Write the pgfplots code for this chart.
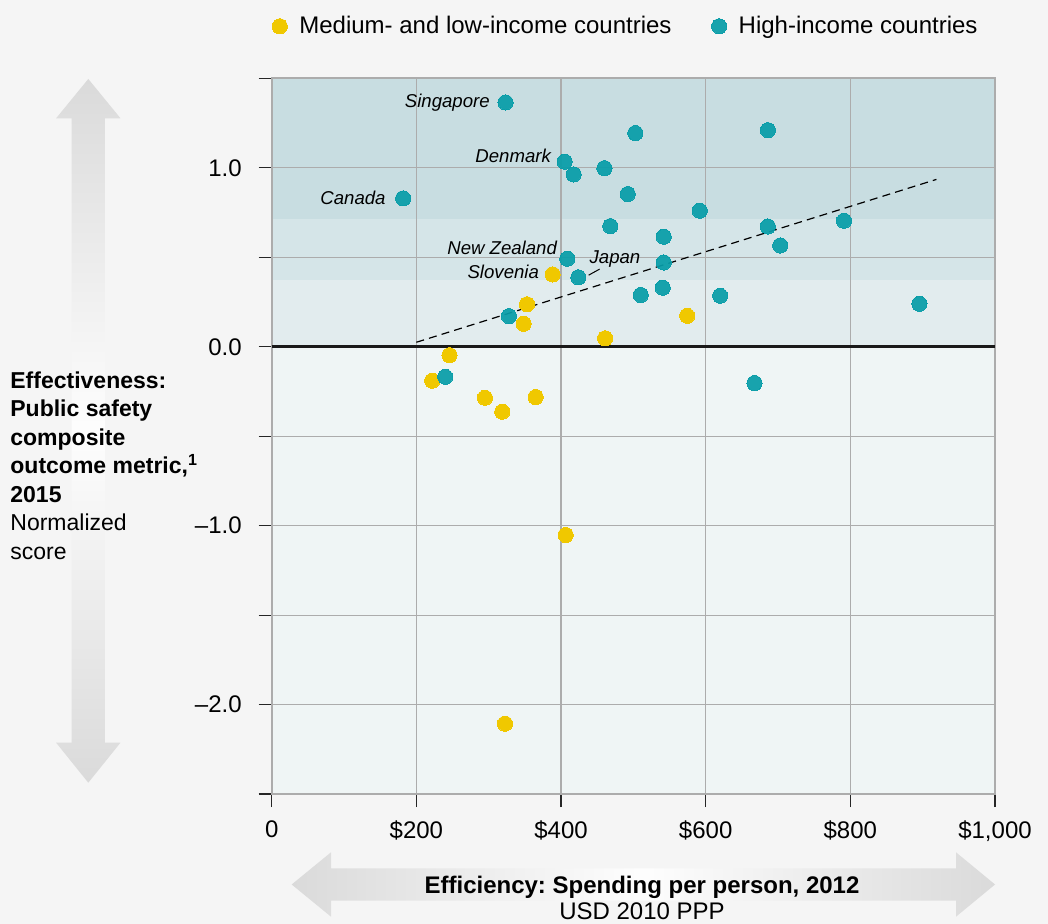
\documentclass[border=0pt]{standalone}
\usepackage{fontspec}
\setmainfont{Liberation Sans}
\usepackage{pgfplots}
\pgfplotsset{compat=1.18}
\frenchspacing
\definecolor{pagebg}{RGB}{245,245,245}
\definecolor{band1}{RGB}{200,221,225}
\definecolor{band2}{RGB}{213,229,232}
\definecolor{band3}{RGB}{226,236,238}
\definecolor{band4}{RGB}{239,245,245}
\definecolor{myyellow}{RGB}{240,200,0}
\definecolor{myteal}{RGB}{8,157,168}
\definecolor{gridgray}{RGB}{172,172,172}
\definecolor{arrowgray}{RGB}{218,218,218}
\begin{document}
\begin{tikzpicture}
% page background and arrows
\fill[pagebg] (-135.85pt,-64.9pt) rectangle (388.15pt,397.1pt);
\shade[top color=arrowgray, bottom color=arrowgray, middle color=white!96!arrowgray]
  (-91.7pt,357.6pt) -- (-107.8pt,337.95pt) -- (-100pt,337.95pt) -- (-100pt,25.75pt) -- (-107.8pt,25.75pt)
  -- (-91.7pt,5.75pt) -- (-75.6pt,25.75pt) -- (-83.4pt,25.75pt) -- (-83.4pt,337.95pt) -- (-75.6pt,337.95pt) -- cycle;
\shade[left color=arrowgray, right color=arrowgray, middle color=white!96!arrowgray]
  (10pt,-45.15pt) -- (29.65pt,-29.05pt) -- (29.65pt,-37.05pt) -- (342.15pt,-37.05pt) -- (342.15pt,-29.05pt)
  -- (361.65pt,-45.15pt) -- (342.15pt,-61.25pt) -- (342.15pt,-53.25pt) -- (29.65pt,-53.25pt) -- (29.65pt,-61.25pt) -- cycle;
\begin{axis}[
  at={(0pt,0pt)}, anchor=south west,
  width=361.65pt, height=357.95pt, scale only axis,
  xmin=0, xmax=1000, ymin=-2.5, ymax=1.5,
  clip=false,
  axis line style={draw=gridgray, line width=0.8pt},
  xtick={0,200,400,600,800,1000},
  xticklabels={0,\$200,\$400,\$600,\$800,{\$1,000}},
  ytick={-2.5,-2,-1.5,-1,-0.5,0,0.5,1,1.5},
  yticklabels={{},{–2.0},{},{–1.0},{},{0.0},{},{1.0},{}},
  tick align=outside, major tick length=6.5pt,
  xtick pos=left, ytick pos=left,
  tick style={draw=black!85, line width=0.7pt},
  ticklabel style={font=\fontsize{12}{14}\selectfont},
  xticklabel style={yshift=-3pt},
  yticklabel style={xshift=-5pt},
  legend columns=2,
  legend style={at={(0.491,1)}, anchor=center, yshift=26pt, draw=none, fill=none,
    font=\fontsize{12}{14}\selectfont,
    /tikz/every odd column/.append style={column sep=4pt},
    /tikz/every even column/.append style={column sep=18pt}},
  legend image code/.code={\draw[#1] plot coordinates {(0pt,0pt)};},
]
% bands
\fill[band4] (axis cs:0,-2.5) rectangle (axis cs:1000,0);
\fill[band3] (axis cs:0,0) rectangle (axis cs:1000,0.374);
\fill[band2] (axis cs:0,0.374) rectangle (axis cs:1000,0.715);
\fill[band1] (axis cs:0,0.715) rectangle (axis cs:1000,1.5);
% grid lines and frame
\begin{scope}[gridgray, line width=0.7pt]
\draw (axis cs:200,-2.5) -- (axis cs:200,1.5);
\draw (axis cs:400,-2.5) -- (axis cs:400,1.5);
\draw (axis cs:600,-2.5) -- (axis cs:600,1.5);
\draw (axis cs:800,-2.5) -- (axis cs:800,1.5);
\draw (axis cs:0,-2) -- (axis cs:1000,-2);
\draw (axis cs:0,-1.5) -- (axis cs:1000,-1.5);
\draw (axis cs:0,-1) -- (axis cs:1000,-1);
\draw (axis cs:0,-0.5) -- (axis cs:1000,-0.5);
\draw (axis cs:0,0.5) -- (axis cs:1000,0.5);
\draw (axis cs:0,1) -- (axis cs:1000,1);
\draw[line width=0.8pt] (axis cs:0,-2.5) rectangle (axis cs:1000,1.5);
\end{scope}
% zero line
\draw[black!90, line width=1.4pt] (axis cs:0,0) -- (axis cs:1000,0);
% trend line
\addplot[forget plot, black, line width=0.6pt, dash pattern=on 4pt off 2.6pt] coordinates {(200,0.025) (919,0.935)};
% Japan leader
\draw[black, line width=0.5pt] (axis cs:438.2,0.40) -- (axis cs:453.4,0.434);
% series
\addplot[only marks, mark=*, mark size=3.8pt, color=myyellow, mark options={draw=myyellow, fill=myyellow, line width=0pt}] coordinates {
(388.4,0.404) (353,0.237) (348.3,0.128) (460.9,0.047) (574.4,0.173) (245.8,-0.047)
(221.9,-0.19) (294.8,-0.285) (318.8,-0.363) (364.9,-0.281) (406.4,-1.052) (322.5,-2.106)
};
\addlegendentry{Medium- and low-income countries}
\addplot[only marks, mark=*, mark size=3.8pt, color=myteal, mark options={draw=myteal, fill=myteal, line width=0pt, opacity=0.93}] coordinates {
(323.3,1.365) (502.8,1.194) (686,1.21) (405,1.034) (417.5,0.963) (460,0.998)
(181.7,0.829) (492.2,0.853) (591.8,0.760) (468.2,0.674) (542,0.615) (686,0.672)
(791.2,0.704) (703.1,0.566) (408.7,0.492) (424,0.388) (542,0.471) (540.6,0.330)
(510.2,0.289) (620,0.285) (328,0.171) (895.5,0.240) (239.9,-0.168) (667.5,-0.203)
};
\addlegendentry{High-income countries}
% country labels
\begin{scope}[every node/.style={font=\itshape\fontsize{9.3}{11}\selectfont, inner sep=0pt}]
\node[anchor=east] at (axis cs:302,1.366) {Singapore};
\node[anchor=east] at (axis cs:386.6,1.065) {Denmark};
\node[anchor=east] at (axis cs:158,0.831) {Canada};
\node[anchor=east] at (axis cs:394.9,0.551) {New Zealand};
\node[anchor=east] at (axis cs:370,0.417) {Slovenia};
\node[anchor=west] at (axis cs:439,0.49) {Japan};
\end{scope}
\end{axis}
% axis descriptions
\node[anchor=north west, inner sep=0pt, align=left, font=\fontsize{11.5}{14.25}\selectfont] at (-130.85pt,211.5pt)
  {\textbf{Effectiveness:}\\\textbf{Public safety}\\\textbf{composite}\\\textbf{outcome metric,\textsuperscript{1}}\\\textbf{2015}\\Normalized\\score};
\node[anchor=base, inner sep=0pt, font=\bfseries\fontsize{12}{14}\selectfont] at (185.15pt,-49.9pt) {Efficiency: Spending per person, 2012};
\node[anchor=base, inner sep=0pt, font=\fontsize{12}{14}\selectfont] at (185.15pt,-62.9pt) {USD 2010 PPP};
\pgfresetboundingbox
\path[use as bounding box] (-135.85pt,-64.9pt) rectangle (388.15pt,397.1pt);
\end{tikzpicture}
\end{document}
